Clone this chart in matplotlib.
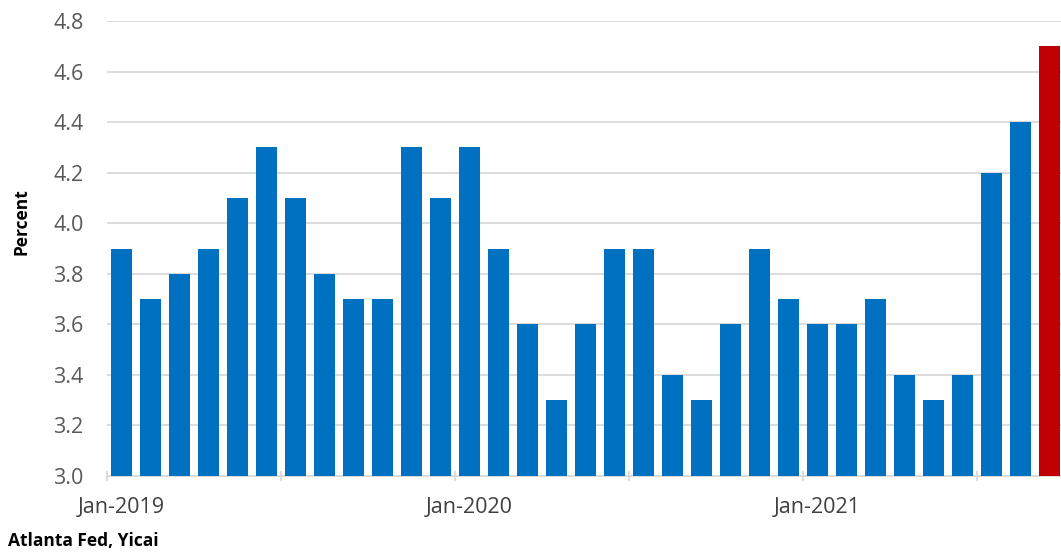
import matplotlib.pyplot as plt
import numpy as np

# ---- data (monthly, Jan-2019 .. Sep-2021) ----
values = [3.9, 3.7, 3.8, 3.9, 4.1, 4.3, 4.1, 3.8, 3.7, 3.7, 4.3, 4.1,
          4.3, 3.9, 3.6, 3.3, 3.6, 3.9, 3.9, 3.4, 3.3, 3.6, 3.9, 3.7,
          3.6, 3.6, 3.7, 3.4, 3.3, 3.4, 4.2, 4.4, 4.7]
label_pos = [0, 12, 24]
label_text = ['Jan-2019', 'Jan-2020', 'Jan-2021']
y_ticks = [3.0, 3.2, 3.4, 3.6, 3.8, 4.0, 4.2, 4.4, 4.6, 4.8]

plt.rcParams['font.family'] = ['Open Sans', 'DejaVu Sans']

fig = plt.figure(figsize=(10.61, 5.52), dpi=100)
ax = fig.add_axes([107 / 1061, 1 - 476 / 552, 957 / 1061, 455 / 552])

x = np.arange(len(values))
colors = ['#0070C0'] * (len(values) - 1) + ['#C00000']
ax.bar(x, values, width=0.69, color=colors, zorder=3)

ax.set_xlim(-0.5, len(values) - 0.5)
ax.set_ylim(3.0, 4.8)
ax.set_yticks(y_ticks)
ax.set_yticklabels([f'{v:.1f}' for v in y_ticks], fontsize=15.5, color='#595959')
ax.tick_params(axis='y', length=0, pad=17)
ax.yaxis.grid(True, color='#D9D9D9', linewidth=1.3, zorder=0)

ax.set_xticks(label_pos)
ax.set_xticklabels(label_text, fontsize=15.5, color='#404040')
ax.tick_params(axis='x', which='major', length=0, pad=15)
ax.set_xticks(np.arange(-0.5, len(values), 6), minor=True)
ax.tick_params(axis='x', which='minor', length=7, color='#D9D9D9', width=1.3, direction='inout')

for s in ['top', 'right', 'left']:
    ax.spines[s].set_visible(False)
ax.spines['bottom'].set_color('#D9D9D9')
ax.spines['bottom'].set_linewidth(1.3)

fig.text(22 / 1061, 1 - 222 / 552, 'Percent', rotation=90, fontsize=12.5,
         fontweight='bold', ha='center', va='center', color='black')
fig.text(8 / 1061, 1 - 541 / 552, 'Atlanta Fed, Yicai', fontsize=12.5,
         fontweight='bold', ha='left', va='center', color='black')

fig.savefig('out.png', dpi=100)
